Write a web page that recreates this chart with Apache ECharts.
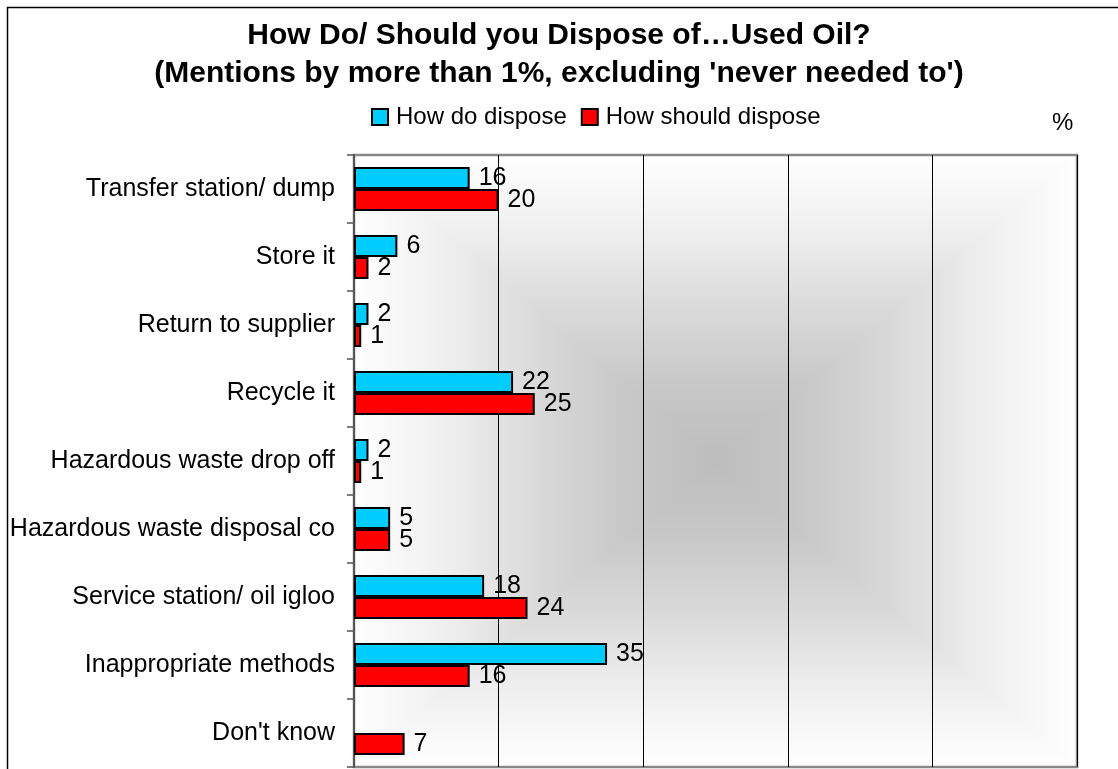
<!DOCTYPE html>
<html>
<head>
<meta charset="utf-8">
<script src="https://cdn.jsdelivr.net/npm/echarts@6/dist/echarts.min.js"></script>
<style>
html,body{margin:0;padding:0;background:#fff;}
#chart{width:1118px;height:769px;}
</style>
</head>
<body>
<div id="chart"></div>
<script>
const categories = ["Transfer station/ dump","Store it","Return to supplier","Recycle it","Hazardous waste drop off","Hazardous waste disposal co","Service station/ oil igloo","Inappropriate methods","Don't know"];
const howDo = [16, 6, 2, 22, 2, 5, 18, 35, null];
const howShould = [20, 2, 1, 25, 1, 5, 24, 16, 7];
const seriesNames = ["How do dispose", "How should dispose"];
const titleLines = ["How Do/ Should you Dispose of\u2026Used Oil?", "(Mentions by more than 1%, excluding 'never needed to')"];

const FONT = "'Liberation Sans', Arial, sans-serif";
const G = {left: 354, top: 155, right: 41, bottom: 2};
const W = 1118, H = 769;
const gx0 = G.left, gy0 = G.top, gx1 = W - G.right, gy1 = H - G.bottom;
const cx = (gx0 + gx1) / 2, cy = (gy0 + gy1) / 2;
const half = [
  {offset: 0, color: '#ffffff'},
  {offset: 0.25, color: '#efefef'},
  {offset: 0.5, color: '#dadada'},
  {offset: 0.75, color: '#c8c8c8'},
  {offset: 1, color: '#bdbdbd'}
];
const mirrored = half.map(o => ({offset: o.offset / 2, color: o.color}))
  .concat(half.slice(0, -1).reverse().map(o => ({offset: 1 - o.offset / 2, color: o.color})));
const halfRev = half.map(o => ({offset: 1 - o.offset, color: o.color})).reverse();

const chart = echarts.init(document.getElementById('chart'));
chart.setOption({
  animation: false,
  backgroundColor: '#fff',
  title: {
    text: titleLines.join('\n'),
    left: 'center', top: 12,
    textStyle: {fontFamily: FONT, fontWeight: 'bold', fontSize: 30, lineHeight: 38, color: '#000'}
  },
  legend: {
    data: seriesNames,
    left: 366, top: 100,
    icon: 'rect', itemWidth: 16, itemHeight: 16, itemGap: 14,
    textStyle: {fontFamily: FONT, fontSize: 24, color: '#000', padding: [0, 0, 0, 3]}
  },
  graphic: [
    {type: 'rect', z: 100, silent: true, shape: {x: 7.5, y: 7.5, width: 1300, height: 1000}, style: {fill: 'none', stroke: '#000', lineWidth: 1.5}},
    {type: 'text', z: 100, left: 1052, top: 111, style: {text: '%', font: '24px ' + FONT, fill: '#000'}},
    {type: 'rect', z: -11, silent: true, shape: {x: gx0, y: gy0, width: gx1 - gx0, height: gy1 - gy0},
      style: {fill: new echarts.graphic.LinearGradient(0, 0, 1, 0, mirrored)}},
    {type: 'polygon', z: -10, silent: true, shape: {points: [[gx0, gy0], [gx1, gy0], [cx, cy]]},
      style: {fill: new echarts.graphic.LinearGradient(0, 0, 0, 1, half)}},
    {type: 'polygon', z: -10, silent: true, shape: {points: [[gx0, gy1], [gx1, gy1], [cx, cy]]},
      style: {fill: new echarts.graphic.LinearGradient(0, 0, 0, 1, halfRev)}}
  ],
  grid: {left: G.left, top: G.top, right: G.right, bottom: G.bottom, show: true, borderColor: '#888', borderWidth: 2.5, backgroundColor: 'transparent'},
  xAxis: {
    type: 'value', min: 0, max: 100, interval: 20,
    axisLabel: {show: false}, axisLine: {show: false}, axisTick: {show: false},
    splitLine: {show: true, lineStyle: {color: '#000', width: 1}}
  },
  yAxis: {
    type: 'category', data: categories, inverse: true,
    axisLine: {show: true, lineStyle: {color: '#555', width: 2}},
    axisTick: {show: true, length: 7, lineStyle: {color: '#555', width: 1.5}},
    axisLabel: {fontFamily: FONT, fontSize: 25, color: '#000', margin: 19}
  },
  series: [
    {
      name: seriesNames[0], type: 'bar', data: howDo, barWidth: 22, barGap: '0%',
      itemStyle: {color: '#00CCFF', borderColor: '#000', borderWidth: 2},
      label: {show: true, position: 'right', distance: 9, fontFamily: FONT, fontSize: 25, color: '#000'}
    },
    {
      name: seriesNames[1], type: 'bar', data: howShould, barWidth: 22, barGap: '0%',
      itemStyle: {color: '#FF0000', borderColor: '#000', borderWidth: 2},
      label: {show: true, position: 'right', distance: 9, fontFamily: FONT, fontSize: 25, color: '#000'}
    }
  ]
});
</script>
</body>
</html>
